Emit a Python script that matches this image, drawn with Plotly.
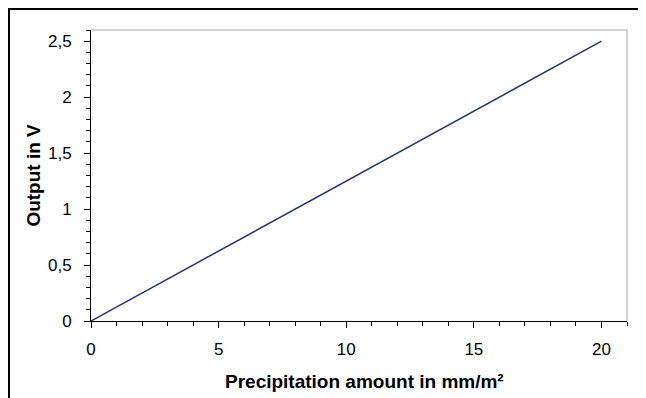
import plotly.graph_objects as go

# Sensor characteristic: precipitation amount vs output voltage
precip_mm = [0, 20]
output_v = [0, 2.5]

x_ticks = [0, 5, 10, 15, 20]
y_ticks = [0, 0.5, 1, 1.5, 2, 2.5]

x_title = "<b>Precipitation amount in mm/m²</b>"
y_title = "<b>Output in V</b>"

fig = go.Figure()
fig.add_trace(go.Scatter(
    x=precip_mm, y=output_v, mode="lines",
    line=dict(color="#25307a", width=1.5),
    showlegend=False, hoverinfo="skip",
))

FONT = "Arial, Liberation Sans, sans-serif"
tick_font = dict(family=FONT, size=17, color="black")
title_font = dict(family=FONT, size=19, color="black")

# page has an 8px body margin, so the figure is 8px smaller than the window
fig.update_layout(
    width=638, height=390,
    margin=dict(l=83, r=19, t=22, b=77),
    paper_bgcolor="white", plot_bgcolor="white",
    separators=",.",
    xaxis=dict(
        range=[0, 21], tickvals=x_ticks,
        showgrid=False, zeroline=False,
        showline=True, linecolor="black", linewidth=1,
        ticks="outside", ticklen=6, tickcolor="black", tickwidth=1,
        minor=dict(ticks="outside", dtick=1, ticklen=4, tickcolor="black", showgrid=False),
        tickfont=tick_font, ticklabelstandoff=7,
    ),
    yaxis=dict(
        range=[0, 2.6], tickvals=y_ticks,
        showgrid=False, zeroline=False,
        showline=True, linecolor="black", linewidth=1,
        ticks="outside", ticklen=6, tickcolor="black", tickwidth=1,
        minor=dict(ticks="outside", dtick=0.1, ticklen=4, tickcolor="black", showgrid=False),
        tickfont=tick_font, ticklabelstandoff=9,
    ),
)

fig.add_annotation(text=x_title, xref="paper", yref="paper", x=0.51, y=-0.208,
                   xanchor="center", yanchor="middle", showarrow=False, font=title_font)
fig.add_annotation(text=y_title, xref="paper", yref="paper", x=-0.108, y=0.5,
                   xanchor="center", yanchor="middle", textangle=-90, showarrow=False,
                   font=title_font)

# gray top/right plot frame
fig.add_shape(type="line", xref="paper", yref="paper", x0=0, x1=1, y0=1, y1=1,
              line=dict(color="#a8a8a8", width=1))
fig.add_shape(type="line", xref="paper", yref="paper", x0=1, x1=1, y0=0, y1=1,
              line=dict(color="#a8a8a8", width=1))
# outer chart border (runs off right and bottom edge)
fig.add_shape(type="rect", xref="paper", yref="paper",
              x0=-82 / 536, x1=1.2, y0=-0.6, y1=1 + 21 / 291,
              line=dict(color="black", width=2), layer="below")

fig.write_html("out.html")
